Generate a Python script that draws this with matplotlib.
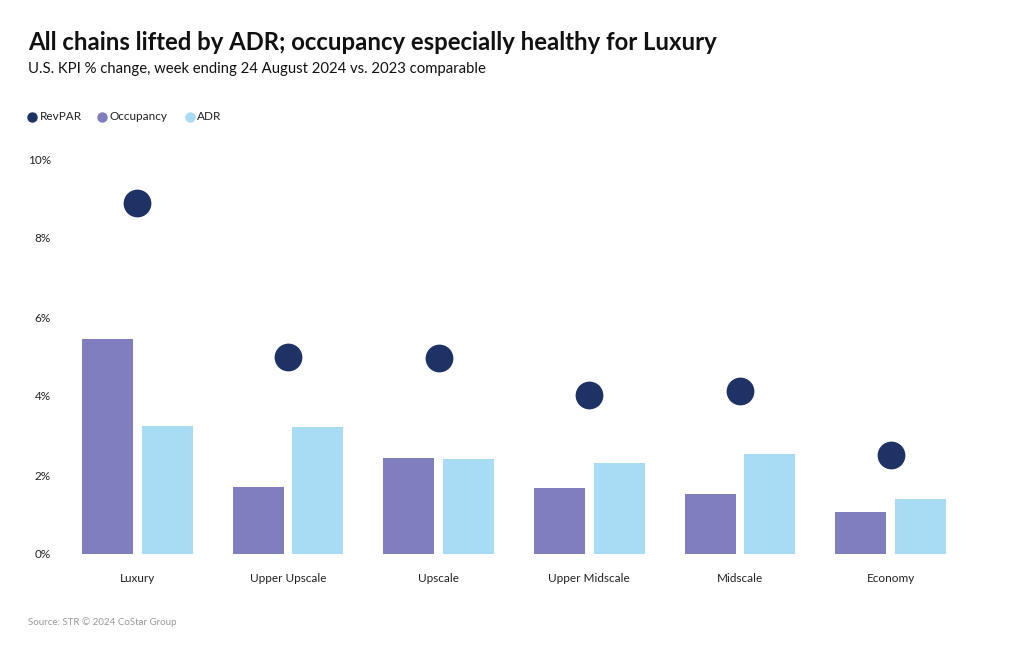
import matplotlib
matplotlib.use("Agg")
import matplotlib.pyplot as plt
import numpy as np
from matplotlib.ticker import FuncFormatter
from matplotlib.lines import Line2D

categories = ["Luxury", "Upper Upscale", "Upscale", "Upper Midscale", "Midscale", "Economy"]
revpar = [8.89, 4.99, 4.96, 4.03, 4.13, 2.51]
occupancy = [5.44, 1.70, 2.43, 1.67, 1.52, 1.06]
adr = [3.24, 3.22, 2.41, 2.30, 2.53, 1.39]
yticks = [0, 2, 4, 6, 8, 10]
legend_labels = ["RevPAR", "Occupancy", "ADR"]

C_REV = "#1f3265"
C_OCC = "#807ebe"
C_ADR = "#a8dcf5"

plt.rcParams['font.family'] = ['Lato', 'DejaVu Sans']

fig = plt.figure(figsize=(10.2, 6.5), dpi=100)
ax = fig.add_axes([62/1020, (650-554)/650, (966-62)/1020, (554-159)/650])

x = np.arange(len(categories))
w = 51/151
off = 30/151
ax.bar(x - off, occupancy, width=w, color=C_OCC, zorder=2)
ax.bar(x + off, adr, width=w, color=C_ADR, zorder=2)
ax.scatter(x, revpar, s=400, color=C_REV, zorder=3, linewidths=0)

ax.set_xlim(-0.5, len(categories) - 0.5)
ax.set_ylim(0, 10)
ax.set_yticks(yticks)
ax.yaxis.set_major_formatter(FuncFormatter(lambda v, p: f"{v:.0f}%"))
ax.set_xticks(x)
ax.set_xticklabels(categories)
ax.tick_params(axis='both', length=0, labelsize=8.5, colors="#222222")
ax.tick_params(axis='x', pad=14)
ax.tick_params(axis='y', pad=8)
for s in ax.spines.values():
    s.set_visible(False)

fig.text(28/1020, 1 - 43/650, "All chains lifted by ADR; occupancy especially healthy for Luxury",
         fontsize=17.2, fontweight='bold', va='center', ha='left', color="#111111")
fig.text(28/1020, 1 - 69/650, "U.S. KPI % change, week ending 24 August 2024 vs. 2023 comparable",
         fontsize=10.7, va='center', ha='left', color="#111111")

# legend drawn manually
mk_x = [32, 102, 190]
tx_x = [40, 110, 197]
ly = 1 - 117/650
for c, mx, tx, lab in zip((C_REV, C_OCC, C_ADR), mk_x, tx_x, legend_labels):
    fig.add_artist(Line2D([mx/1020], [ly], marker='o', linestyle='', markersize=7.5,
                          color=c, markeredgewidth=0, transform=fig.transFigure))
    fig.text(tx/1020, ly, lab, fontsize=8.5, va='center', ha='left', color="#222222")

fig.text(28/1020, 1 - 622/650, "Source: STR © 2024 CoStar Group", fontsize=7,
         color="#999999", va='center', ha='left')

fig.savefig("out.png", dpi=100)
